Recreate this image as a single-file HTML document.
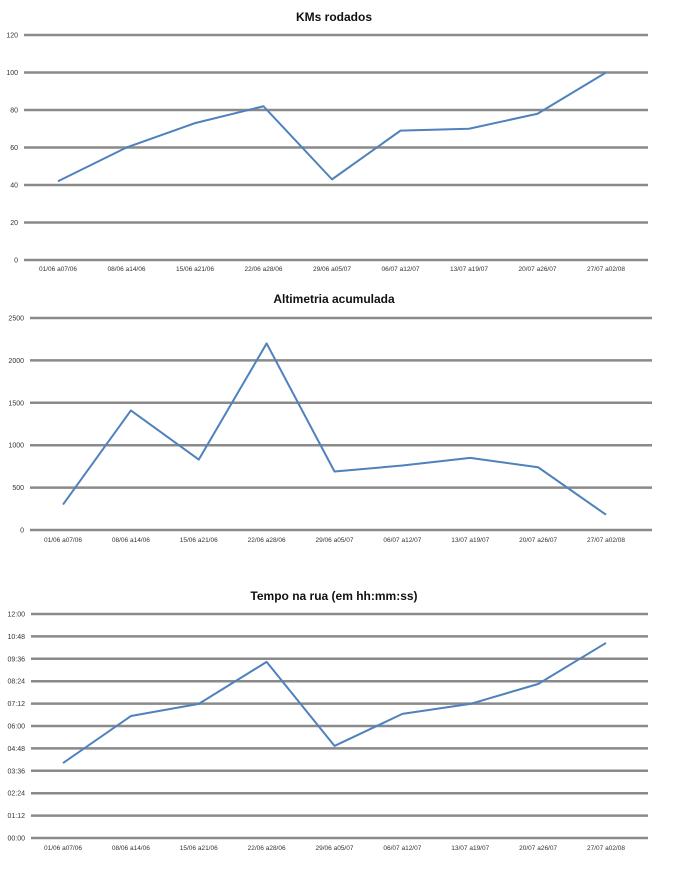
<!DOCTYPE html>
<html><head><meta charset="utf-8"><style>
body{margin:0;background:#fff;width:676px;height:883px;overflow:hidden;font-family:"Liberation Sans",sans-serif}
svg{display:block}
</style></head><body>
<svg id="c" width="676" height="883"></svg>
<script>
const categories=["01/06 a07/06","08/06 a14/06","15/06 a21/06","22/06 a28/06","29/06 a05/07","06/07 a12/07","13/07 a19/07","20/07 a26/07","27/07 a02/08"];
const kmValues=[42,60,73,82,43,69,70,78,100];
const kmTicks=[0,20,40,60,80,100,120];
const altValues=[300,1410,830,2200,690,760,850,740,180];
const altTicks=[0,500,1000,1500,2000,2500];
const timeValues=[241,392,431,566,296,399,431,495,627];
const timeTicks=[0,72,144,216,288,360,432,504,576,648,720];
const timeTickLabels=["00:00","01:12","02:24","03:36","04:48","06:00","07:12","08:24","09:36","10:48","12:00"];

const NS="http://www.w3.org/2000/svg";
const svg=document.getElementById('c');
function mk(t,a,p){const e=document.createElementNS(NS,t);for(const k in a)e.setAttribute(k,a[k]);(p||svg).appendChild(e);return e;}

function chart(name,title,titleY,vals,ticks,tickLabels,x0,x1,yTop,yBot,firstX,lastX,labelY){
  const g=mk('g',{});
  
  
  const max=ticks[ticks.length-1];
  const ys=v=>yBot-(v/max)*(yBot-yTop);
  const xs=i=>firstX+i*(lastX-firstX)/(categories.length-1);
  const t=mk('text',{x:334,y:titleY,'text-anchor':'middle','font-size':12,'font-weight':'bold',fill:'#111'},g);
  t.textContent=title;
  
  
  ticks.forEach((v,i)=>{
    const y=ys(v);
    const l=mk('line',{x1:x0,x2:x1,y1:y,y2:y,stroke:'#8a8a8a','stroke-width':2.5},g);
    
    
    const tx=mk('text',{x:x0-6,y:y+2.5,'text-anchor':'end','font-size':7,fill:'#333'},g);
    tx.textContent=tickLabels?tickLabels[i]:String(v);
    
    
  });
  categories.forEach((c,i)=>{
    const tx=mk('text',{x:xs(i),y:labelY,'text-anchor':'middle','font-size':6.5,fill:'#333'},g);
    tx.textContent=c;
    
    
  });
  const p=mk('polyline',{points:vals.map((v,i)=>xs(i)+','+ys(v)).join(' '),fill:'none',stroke:'#4f81bd','stroke-width':2,'stroke-linejoin':'round'},g);
  
  
}
chart('kms-chart','KMs rodados',21,kmValues,kmTicks,null,24,648,35,260,58,606,271);
chart('altimetria-chart','Altimetria acumulada',303,altValues,altTicks,null,30,652,318,530,63,606,542);
chart('tempo-chart','Tempo na rua (em hh:mm:ss)',600,timeValues,timeTicks,timeTickLabels,31,648,614,838,63,606,850);
</script>
</body></html>
